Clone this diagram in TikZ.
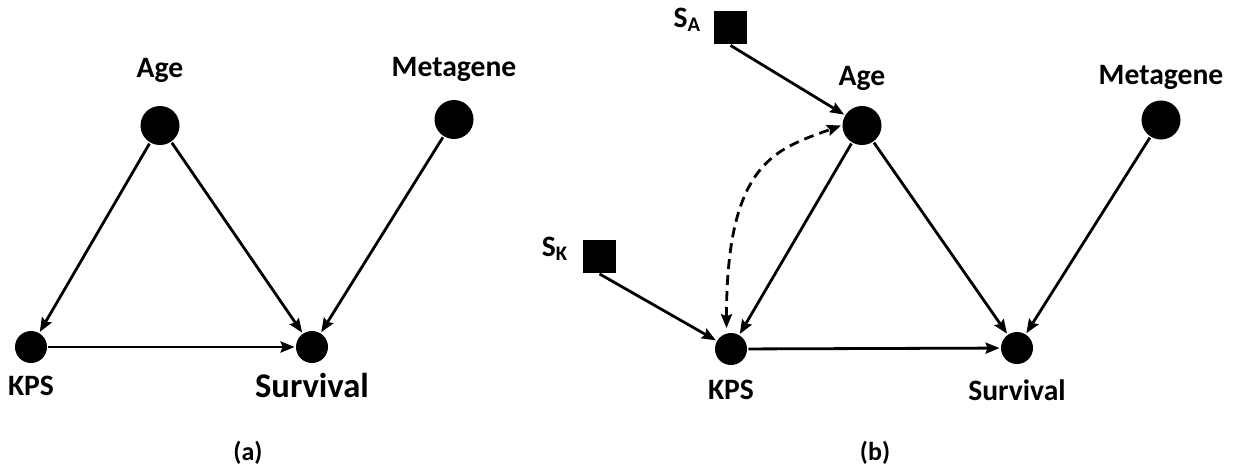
\documentclass[tikz,border=0pt]{standalone}
\usepackage{fontspec}
\setmainfont{Carlito}
\usetikzlibrary{arrows.meta}
\usetikzlibrary{positioning}

\begin{document}
\begin{tikzpicture}[x=0.5pt,y=-0.5pt,->,>={Stealth[length=7pt,width=5.5pt,inset=1pt]},line width=1.4pt]
	\tikzset{var/.style = {shape=circle, fill=black, inner sep=0pt, minimum size=#1},
		var/.default = 16pt,
		sel/.style = {shape=rectangle, fill=black, inner sep=0pt, minimum size=16.5pt},
		lbl/.style = {font=\bfseries\fontsize{14.8}{17}\selectfont, inner sep=0pt, text depth=0pt, text height=9pt},
		panel/.style = {font=\bfseries\fontsize{13}{16}\selectfont, inner sep=0pt}}
	\useasboundingbox (0,0) rectangle (1235,467);

	% (a) without selection
	\node[var=19.5pt, label={[lbl,label distance=13pt]above:Age}] (AGEa) at (160,125.5) {};
	\node[var=19.5pt, label={[lbl,label distance=10.5pt]above:Metagene}] (METAa) at (454,119.5) {};
	\node[var, label={[lbl,label distance=6pt]below:KPS}] (KPSa) at (31,347) {};
	\node[var, label={[lbl,font=\bfseries\fontsize{17.3}{20}\selectfont,label distance=7pt]below:Survival}] (SURVa) at (312,347) {};

	\draw (AGEa) -- (KPSa);
	\draw (AGEa) -- (SURVa);
	\draw (METAa) -- (SURVa);
	\draw (KPSa) -- (SURVa);

	% (b) with selection nodes
	\node[sel, label={[lbl,anchor=base east,label distance=5pt]left:S\textsubscript{A}}] (SA) at (730.5,27.5) {};
	\node[sel, label={[lbl,anchor=base east,label distance=6pt]left:S\textsubscript{K}}] (SK) at (599.5,256) {};
	\node[var=19.5pt, label={[lbl,label distance=9pt]above:Age}] (AGEb) at (862,125.5) {};
	\node[var=19.5pt, label={[lbl,label distance=6.5pt]above:Metagene}] (METAb) at (1161,120) {};
	\node[var, label={[lbl,label distance=7pt]below:KPS}] (KPSb) at (731,349) {};
	\node[var, label={[lbl,label distance=8pt]below:Survival}] (SURVb) at (1017,348) {};

	\draw (SA.south) -- (AGEb);
	\draw (SK.south) -- (KPSb);
	\draw (AGEb) -- (KPSb);
	\draw (AGEb) -- (SURVb);
	\draw (METAb) -- (SURVb);
	\draw (KPSb) -- (SURVb);
	\draw[<->, dash pattern=on 5pt off 3pt, shorten <=2pt]
		(KPSb.105) to[out=90,in=200,out looseness=1.85,in looseness=0.74] (AGEb.180);

	\node[panel, anchor=base] (PANa) at (248,460) {(a)};
	\node[panel, anchor=base] (PANb) at (875,460) {(b)};
\end{tikzpicture}
\end{document}
